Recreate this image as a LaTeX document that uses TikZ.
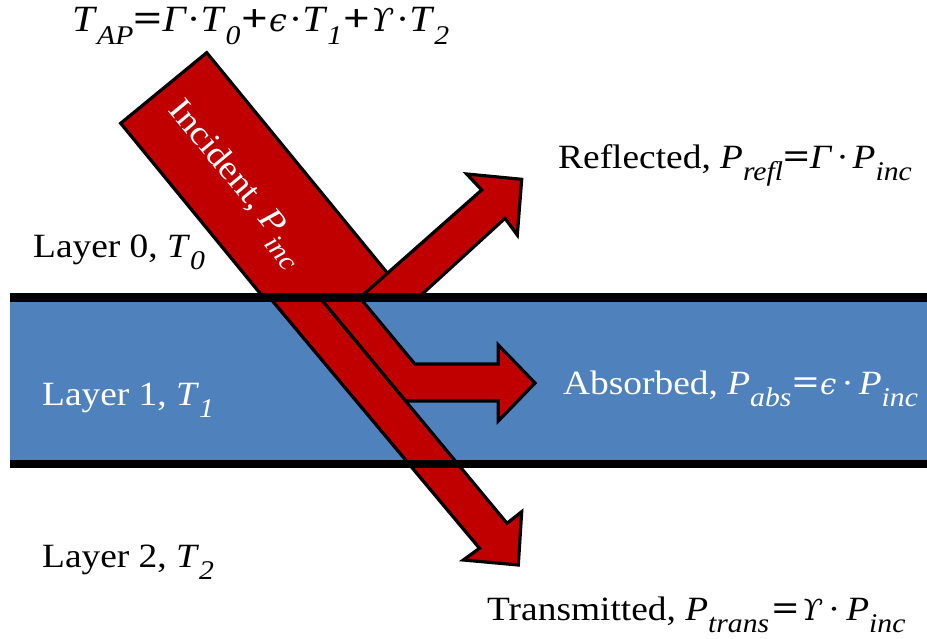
\documentclass[tikz,border=0pt]{standalone}
\usepackage{graphicx}
\usepackage{fontspec}
\setmainfont{Liberation Serif}[FakeStretch=1.1]
\newfontfamily\dvs{DejaVu Serif}[Scale=0.86]
\definecolor{beamred}{RGB}{192,0,0}
\definecolor{layerblue}{RGB}{79,129,189}
\newcommand{\vsub}[2]{\textit{#1}\raisebox{-0.36em}{\fontsize{27}{27}\selectfont\itshape #2}}
\newcommand{\gup}{{\dvs\itshape ϒ}}
\newcommand{\geps}{{\dvs\itshape ϵ}}
\newcommand{\ggam}{\textit{Γ}}
\newcommand{\eqs}{\scalebox{1.25}[1.05]{\textbf{=}}}
\newcommand{\pls}{\scalebox{1.15}[1.05]{\textbf{+}}}
\begin{document}
\begin{tikzpicture}[x=1pt,y=-1pt,
  beam/.style={fill=beamred,draw=black,line width=3.2pt,line join=miter},
  lbl/.style={inner sep=0pt,anchor=base west,font=\fontsize{34}{38}\selectfont},
  bandline/.style={draw=black,line width=8.5pt}]
\useasboundingbox (0,0) rectangle (927,638);
% layer 1 fill
\fill[layerblue] (10,297.5) rectangle (927,464);
% incident beam
\draw[beam] (120.7,123.3) -- (206.7,52.7) -- (407.4,297.5) -- (263.5,297.5) -- cycle;
% absorbed branch
\draw[beam] (319.6,297.5) -- (359.6,297.5) -- (414.8,364) -- (498.3,364) -- (498.3,345)
  -- (535,383) -- (498.3,421) -- (498.3,401) -- (405.5,401) -- cycle;
% transmitted branch
\draw[beam] (269.6,297.5) -- (319.6,297.5) -- (507,523.3) -- (521.7,511.7) -- (518.3,565)
  -- (463.3,560) -- (479.5,548.3) -- cycle;
% reflected branch
\draw[beam] (360,297.5) -- (481.7,190) -- (466.7,174) -- (521.7,179.3) -- (517.3,235)
  -- (505,218.3) -- (418.4,297.5) -- cycle;
% layer boundaries
\draw[bandline] (10,297.5) -- (927,297.5);
\draw[bandline] (10,464) -- (927,464);
% labels
\node[lbl,font=\fontsize{37}{40}\selectfont] (tap) at (72,31)
  {\vsub{T}{AP}\eqs\ggam·\vsub{T}{0}\hspace{1pt}\pls\hspace{1pt}\geps\hspace{2pt}·\vsub{T}{1}\hspace{1pt}\pls\hspace{1pt}\gup\hspace{3pt}·\vsub{T}{2}};
\node[lbl] (refl) at (558,168) {Reflected, \vsub{P}{refl}\eqs\ggam\hspace{4pt}·\hspace{4pt}\vsub{P}{inc}};
\node[lbl] (l0) at (33,257) {Layer 0, \vsub{T}{0}};
\node[lbl,text=white] (l1) at (42,405) {Layer 1, \vsub{T}{1}};
\node[lbl,text=white] (abs) at (563,394) {Absorbed, \vsub{P}{abs}\hspace{1pt}\eqs\hspace{1pt}\geps\hspace{5pt}·\hspace{5pt}\vsub{P}{inc}};
\node[lbl] (l2) at (42,567) {Layer 2, \vsub{T}{2}};
\node[lbl] (trans) at (487,620) {Transmitted, \vsub{P}{trans}\hspace{3pt}\eqs\hspace{3pt}\gup\hspace{6pt}·\hspace{6pt}\vsub{P}{inc}};
\node[inner sep=0pt,text=white,rotate=-50.3,font=\fontsize{34}{38}\selectfont] (inc) at (236,184) {Incident, \vsub{P}{inc}};
\end{tikzpicture}
\end{document}
